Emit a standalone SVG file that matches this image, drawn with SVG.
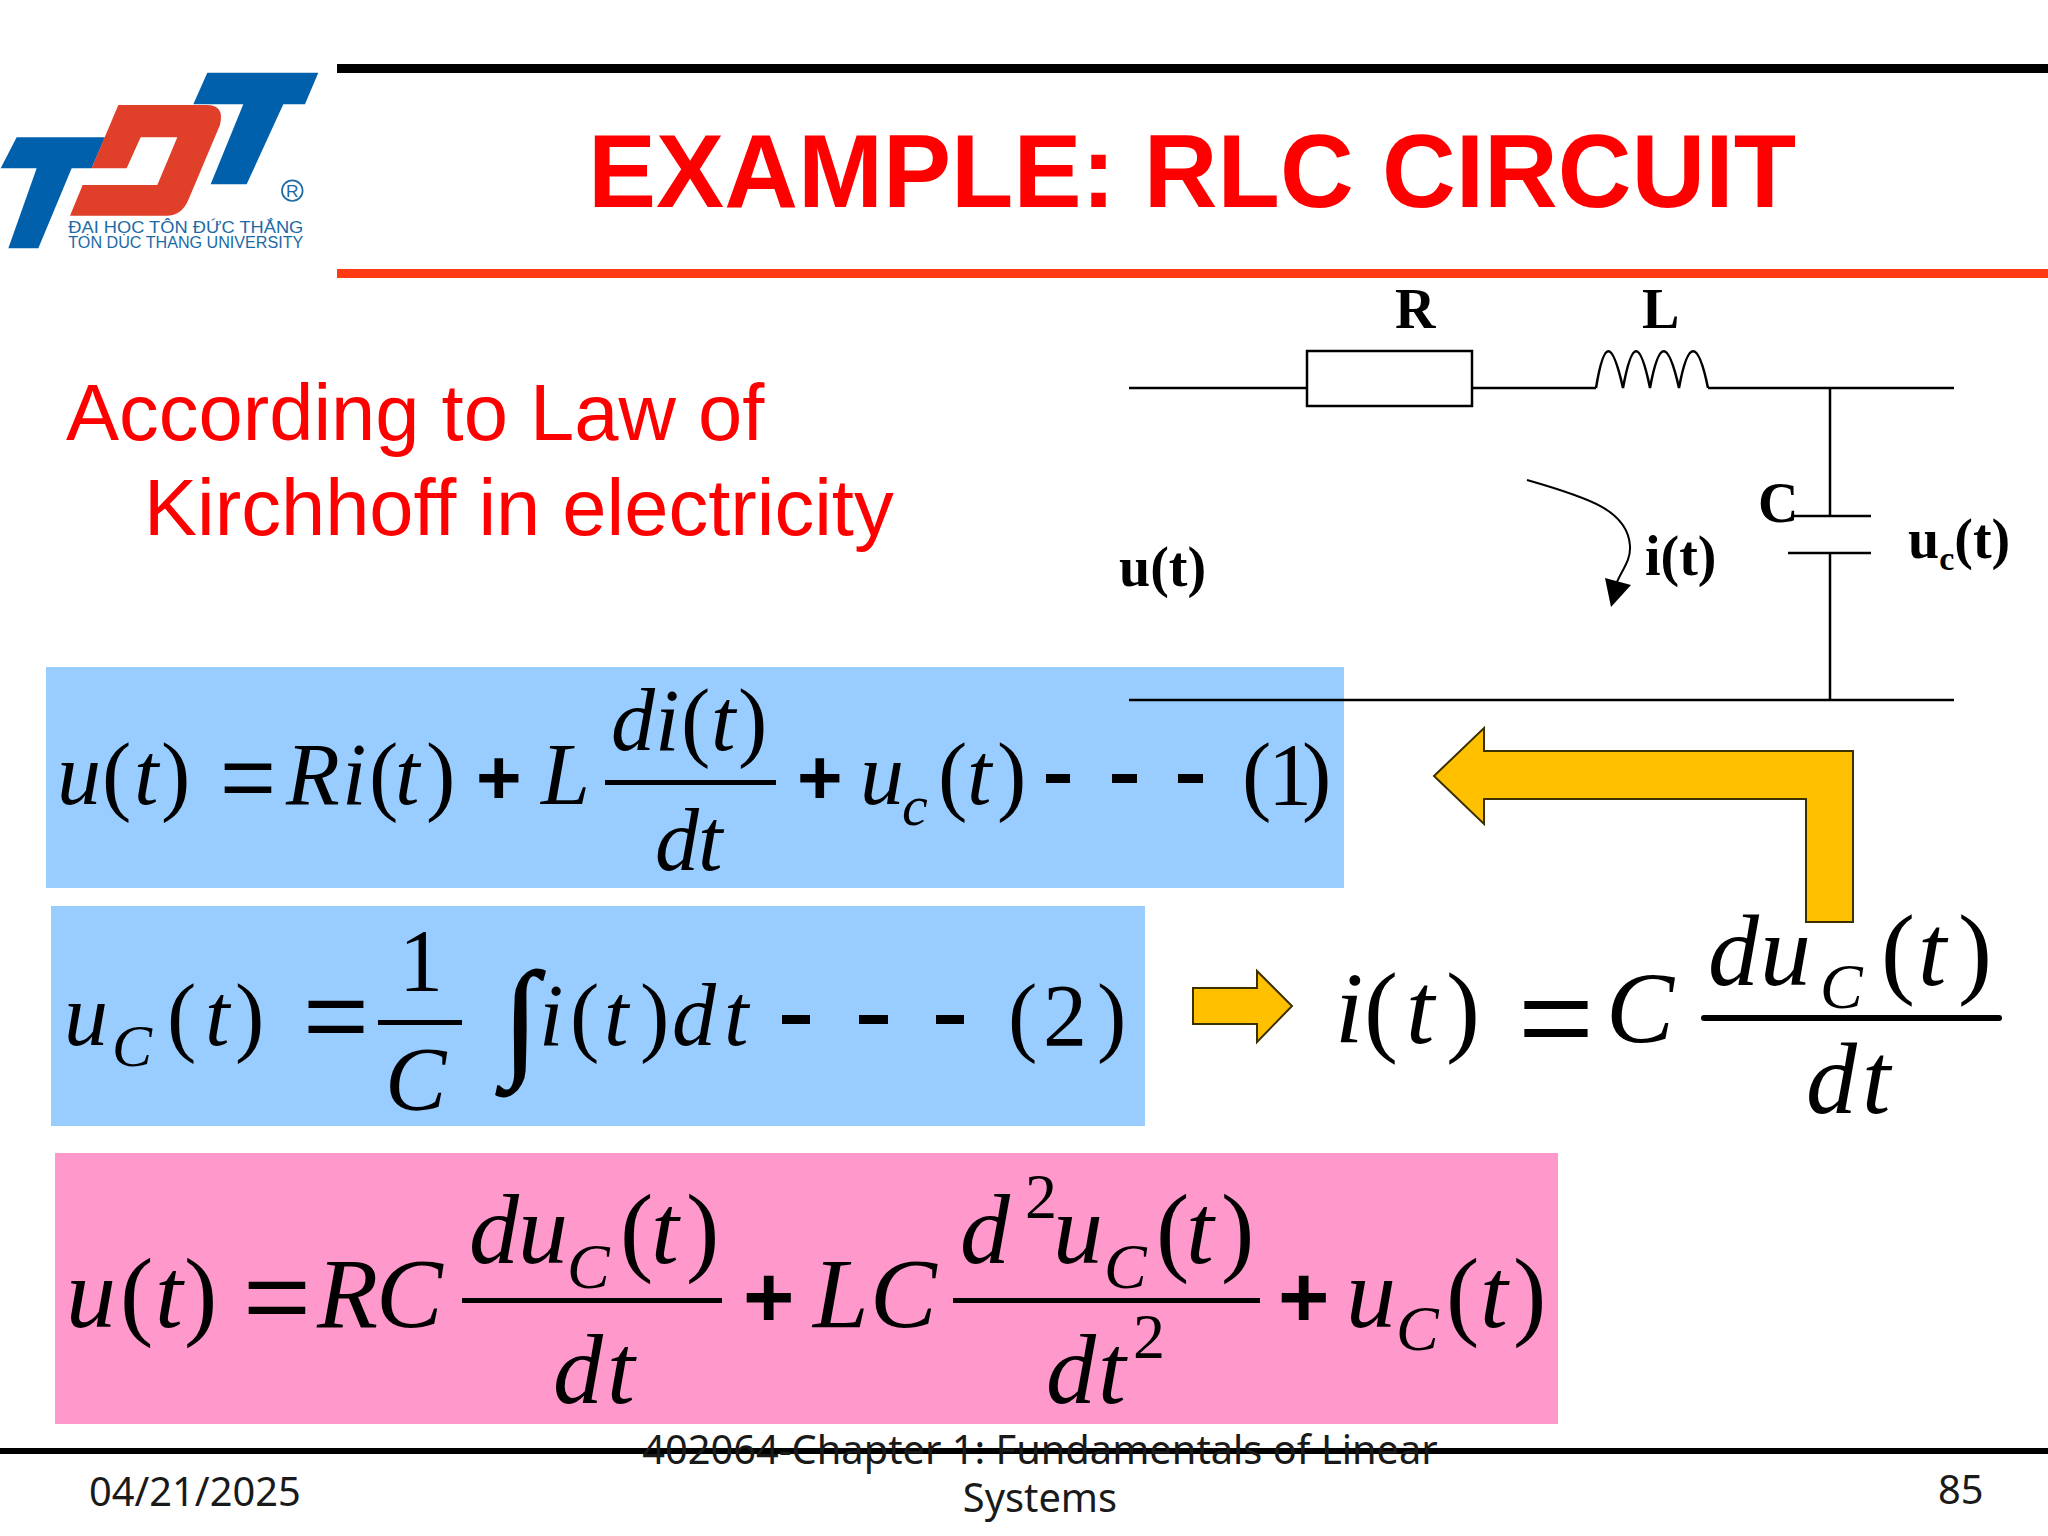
<svg xmlns="http://www.w3.org/2000/svg" width="2048" height="1536" viewBox="0 0 2048 1536">
<style>
.mi{font-family:"Liberation Serif",serif;font-style:italic;fill:#000}
.mr{font-family:"Liberation Serif",serif;fill:#000}
.op{font-family:"Liberation Sans",sans-serif;font-weight:bold;fill:#000}
.eq{font-family:"Liberation Sans",sans-serif;fill:#000}
.lb{font-family:"Liberation Serif",serif;font-weight:bold;fill:#000;font-size:56px}
.bd{font-family:"Liberation Sans",sans-serif;fill:#ff0000;font-size:79.5px}
.ft{font-family:"Noto Sans",sans-serif;fill:#1a1a1a;font-size:39.8px}
.wire{fill:none;stroke:#000;stroke-width:2.5}
.yel{fill:#ffc000;stroke:#3a3000;stroke-width:2}
.lg{font-family:"Liberation Sans",sans-serif;fill:#1b6aa5;font-size:52px}
</style>
<rect width="2048" height="1536" fill="#fff"/>
<g id="logo" transform="translate(0,50) scale(.3333)">
<path fill="#0060ac" d="M50 262H315L275 355H215L115 595H25L110 355H2Z"/>
<path fill="#0060ac" d="M622 68H955L915 163H850L740 403H632L730 163H580Z"/>
<path fill="#e0402a" d="M355 165H620Q675 165 660 225L565 450Q545 497 500 497H210L248 405H472L532 262H422L380 355H275Z"/>
<circle cx="877" cy="422" r="31" fill="none" stroke="#1b6aa5" stroke-width="5"/>
<text class="lg" x="877" y="441" text-anchor="middle">R</text>
<text class="lg" x="205" y="548" textLength="705" lengthAdjust="spacingAndGlyphs">ĐẠI HỌC TÔN ĐỨC THẮNG</text>
<text class="lg" x="205" y="595" textLength="705" lengthAdjust="spacingAndGlyphs">TON DUC THANG UNIVERSITY</text>
</g>
<g id="header">
<rect x="337" y="64" width="1711" height="9" fill="#000"/>
<rect x="337" y="269" width="1711" height="9" fill="#ff3b13"/>
<text x="588" y="207" font-family="Liberation Sans, sans-serif" font-weight="bold" font-size="104" fill="#ff0000" textLength="1208" lengthAdjust="spacingAndGlyphs">EXAMPLE: RLC CIRCUIT</text>
</g>
<g id="law">
<text class="bd" x="66" y="440">According to Law of</text>
<text class="bd" x="144" y="535">Kirchhoff in electricity</text>
</g>
<g id="boxes">
<rect x="46" y="667" width="1298" height="221" fill="#99ccff"/>
<rect x="51" y="906" width="1094" height="220" fill="#99ccff"/>
<rect x="55" y="1153" width="1503" height="271" fill="#ff99cc"/>
</g>
<g id="connectors">
<path class="wire" d="M1129 388H1307M1472 388H1596M1708 388H1954M1830 388V516M1792 516H1871M1788 553H1871M1830 553V699M1129 700H1954"/>
<path class="wire" d="M1596 388C1604 339 1612 339 1623 388C1632 339 1640 339 1650 388C1659 339 1668 339 1679 388C1688 339 1698 339 1708 388"/>
<path fill="none" stroke="#000" stroke-width="2" d="M1527 480C1590 498 1628 511 1630 546C1631 560 1622 570 1617 582"/>
<path fill="#000" d="M1611 607L1605 578L1631 585Z"/>
</g>
<g id="resistor"><rect x="1307" y="351" width="165" height="55" fill="#fff" stroke="#000" stroke-width="2.5"/></g>
<g id="circuit-labels">
<text class="lb" x="1395" y="328">R</text>
<text class="lb" x="1642" y="328">L</text>
<text class="lb" x="1119" y="586">u(t)</text>
<text class="lb" x="1758" y="522">C</text>
<text class="lb" x="1645" y="575">i(t)</text>
<text class="lb" x="1908" y="558">u<tspan font-size="34" dy="12">c</tspan><tspan dy="-12">(t)</tspan></text>
</g>
<g id="arrow-big"><path class="yel" d="M1434 776L1484 728V751H1853V922H1806V799H1484V824Z"/></g>
<g id="arrow-small"><path class="yel" d="M1193 988H1257V971L1292 1006L1257 1042V1024H1193Z"/></g>
<g id="eq1" font-size="88">
<text class="mi" x="57 134 286 342 395 541 860 967" y="804">utRitLut</text>
<text class="mr" x="102 161 369 426 938 997 1242 1268 1302" y="804">()()()(1)</text>
<text class="eq" x="220" y="808" font-size="90" textLength="56" lengthAdjust="spacingAndGlyphs">=</text>
<text class="op" x="476 797" y="804" font-size="78">++</text>
<text class="mi" x="611 655 711" y="750">dit</text>
<text class="mr" x="681 738" y="750">()</text>
<rect x="605" y="780" width="171" height="5"/>
<text class="mi" x="655 698" y="870">dt</text>
<text class="mi" x="902" y="825" font-size="58">c</text>
<rect x="1046" y="774" width="24" height="9"/><rect x="1112" y="774" width="25" height="9"/><rect x="1178" y="774" width="25" height="9"/>
</g>
<g id="eq2" font-size="88">
<text class="mi" x="64 205 539 604 672 724" y="1045">utitdt</text>
<text class="mi" x="112" y="1066" font-size="60">C</text>
<text class="mr" x="167 235 570 640 1008 1043 1097" y="1045">()()(2)</text>
<text class="eq" x="303" y="1050" font-size="100" textLength="66" lengthAdjust="spacingAndGlyphs">=</text>
<text class="mr" x="399" y="990">1</text>
<rect x="378" y="1020" width="84" height="5"/>
<text class="mi" x="385" y="1110" font-size="92">C</text>
<text class="mr" x="503" y="1062" font-size="130" stroke="#000" stroke-width="1.5">∫</text>
<rect x="782" y="1015" width="28" height="9"/><rect x="859" y="1015" width="29" height="9"/><rect x="936" y="1015" width="28" height="9"/>
</g>
<g id="eq3" font-size="102">
<text class="mi" x="1335 1406" y="1043">it</text>
<text class="mr" x="1364 1446" y="1043">()</text>
<text class="eq" x="1518" y="1056" font-size="112" textLength="76" lengthAdjust="spacingAndGlyphs">=</text>
<text class="mi" x="1606" y="1043" font-size="102">C</text>
<text class="mi" x="1708 1760 1918" y="985">dut</text>
<text class="mi" x="1820" y="1008" font-size="64">C</text>
<text class="mr" x="1881 1958" y="985">()</text>
<rect x="1701" y="1015" width="301" height="6" rx="3"/>
<text class="mi" x="1806 1862" y="1113">dt</text>
</g>
<g id="eq4" font-size="100">
<text class="mi" x="66 155 317 376 813 870 1346 1480" y="1327">utRCLCut</text>
<text class="mr" x="120 184 1446 1513" y="1327">()()</text>
<text class="eq" x="243" y="1331" font-size="100" textLength="68" lengthAdjust="spacingAndGlyphs">=</text>
<text class="op" x="743 1278" y="1327" font-size="88">++</text>
<text class="mi" x="469 518 651 960 1053 1186" y="1263">dutdut</text>
<text class="mr" x="620 686 1156 1221" y="1263">()()</text>
<text class="mr" x="1025" y="1218" font-size="64">2</text>
<text class="mi" x="567 1104" y="1288" font-size="64">CC</text>
<text class="mi" x="1396" y="1350" font-size="64">C</text>
<rect x="462" y="1298" width="260" height="5"/><rect x="953" y="1298" width="307" height="5"/>
<text class="mi" x="553 607 1046 1098" y="1403">dtdt</text>
<text class="mr" x="1133" y="1358" font-size="64">2</text>
</g>
<g id="footer">
<rect x="0" y="1448" width="2048" height="6" fill="#000"/>
<text class="ft" x="89" y="1506">04/21/2025</text>
<text class="ft" x="1040" y="1464" text-anchor="middle">402064-Chapter 1: Fundamentals of Linear</text>
<text class="ft" x="1040" y="1512" text-anchor="middle">Systems</text>
<text class="ft" x="1938" y="1504">85</text>
</g>
</svg>
